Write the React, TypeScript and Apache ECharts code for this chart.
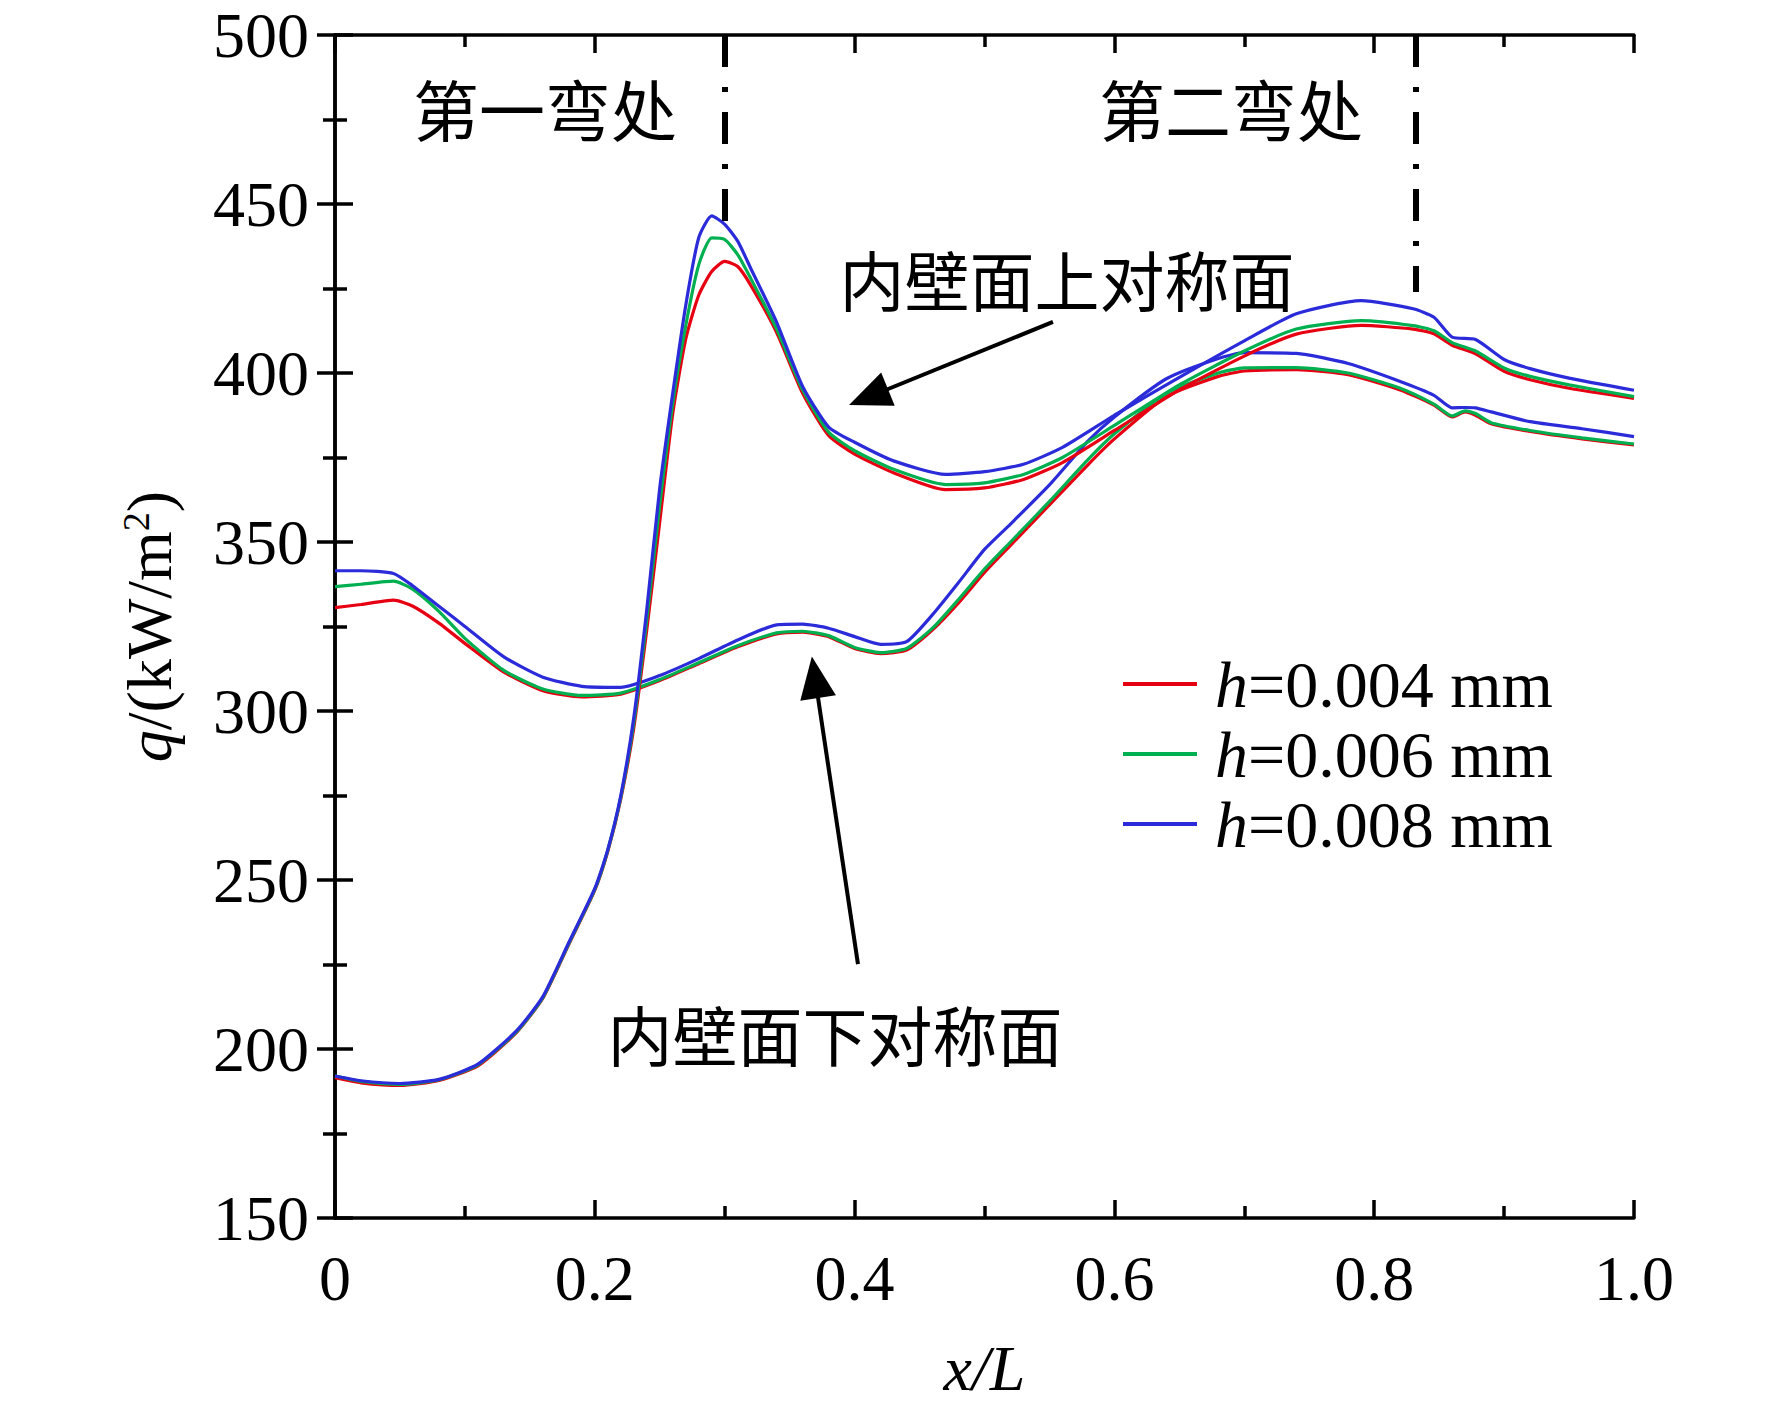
import * as echarts from "echarts";
import { useEffect, useRef } from "react";

const H_NAMES = ["h=0.004 mm", "h=0.006 mm", "h=0.008 mm"];
const COLORS = ["#e60012", "#00b050", "#2b2bd9"];

// x/L positions of the upper symmetry plane curves
const X_UPPER = [0, 0.02, 0.05, 0.08, 0.11, 0.14, 0.16, 0.18, 0.2, 0.21, 0.22, 0.23, 0.24, 0.25, 0.26, 0.27, 0.28, 0.29, 0.3, 0.31, 0.32, 0.34, 0.36, 0.38, 0.4, 0.43, 0.47, 0.5, 0.53, 0.56, 0.6, 0.65, 0.7, 0.74, 0.79, 0.83, 0.846, 0.86, 0.878, 0.9, 0.92, 0.95, 1.0];
const Q_UPPER_004 = [191.5, 190, 189.2, 190.7, 195, 205, 215, 231, 247, 258.5, 274, 295, 324, 356, 388, 410, 423, 430, 433, 431.5, 426, 412, 394, 381.5, 376, 370.5, 365.5, 366, 368.5, 373.5, 383, 395, 405, 411.5, 414.1, 413, 411.6, 408.2, 405.7, 400.5, 398, 395.5, 392.5];
const Q_UPPER_006 = [192, 190.4, 189.5, 190.9, 195.3, 205.2, 215.2, 231.2, 247.2, 258.8, 274.5, 296.5, 327, 361, 391, 414, 432, 440, 439.5, 435, 428, 413, 395, 382.5, 377, 371.5, 367, 367.5, 370, 375, 384.5, 396.5, 406.5, 413, 415.5, 414, 412.5, 409, 406.5, 401.5, 399, 396.5, 393];
const Q_UPPER_008 = [192, 190.6, 189.8, 191, 195.5, 205.5, 215.5, 231.5, 247.5, 259, 275, 298, 330, 366, 394, 420, 440, 446.5, 444, 439, 431, 415, 396, 384, 379.5, 374, 370, 370.8, 373, 378, 387.5, 398.7, 409.5, 417.5, 421.4, 419, 416.5, 410.6, 409.9, 404, 401.3, 398.5, 394.9];

// x/L positions of the lower symmetry plane curves
const X_LOWER = [0, 0.02, 0.045, 0.06, 0.08, 0.1, 0.13, 0.16, 0.19, 0.22, 0.25, 0.28, 0.31, 0.34, 0.36, 0.38, 0.4, 0.42, 0.44, 0.46, 0.48, 0.5, 0.52, 0.55, 0.58, 0.6, 0.64, 0.68, 0.7, 0.74, 0.78, 0.82, 0.846, 0.86, 0.87, 0.878, 0.89, 0.92, 0.96, 1.0];
const Q_LOWER_004 = [330.6, 331.5, 332.8, 331, 326, 320, 311.5, 306, 304.2, 305, 309, 314, 319, 322.8, 323.3, 322, 318.5, 317, 318, 324, 332, 341, 349, 361, 373, 380.5, 393, 399, 400.6, 401, 399.5, 395, 390.5, 387, 388.5, 387.5, 385, 382.7, 380.5, 378.7];
const Q_LOWER_006 = [336.8, 337.5, 338.4, 336, 329.5, 321.5, 312, 306.5, 304.6, 305.3, 309.3, 314.3, 319.3, 323.1, 323.6, 322.3, 318.8, 317.3, 318.5, 324.5, 333, 342, 350, 362, 374.5, 382, 394, 400, 401.5, 401.6, 400, 395.5, 390.8, 387.3, 388.8, 388, 385.3, 383, 380.8, 379];
const Q_LOWER_008 = [341.5, 341.5, 340.7, 337, 331, 325, 316, 310, 307.3, 307, 310.5, 315.5, 321, 325.5, 325.7, 324.5, 322, 319.7, 320.5, 328.5, 338, 347.8, 355.3, 366.9, 380, 387, 398.3, 404.3, 406, 405.8, 402.8, 397.5, 393.4, 389.7, 389.8, 389.7, 388.5, 385.6, 383.5, 381.2];

// bend boundaries: x/L and lower end of the dash-dot marker
const BEND_X = [0.3, 0.832];
const BEND_END_Q = [443.5, 424];

// arrows: [tail, head]
const ARROW_UPPER = [[0.5527, 415.1], [0.4107, 392.9]];
const ARROW_LOWER = [[0.4026, 225.1], [0.3695, 310]];

const SERIF = "'Liberation Serif', 'Times New Roman', serif";
const CJK = "'Noto Sans CJK SC', sans-serif";

const zip = (xs: number[], ys: number[]) => xs.map((x, i) => [x, ys[i]]);

const axisStyle = {
  axisLine: { lineStyle: { color: "#000", width: 3.5 } },
  axisTick: { inside: true, length: 18, lineStyle: { color: "#000", width: 3.5 } },
  minorTick: { show: true, splitNumber: 2, length: 12, lineStyle: { color: "#000", width: 3.5 } },
  splitLine: { show: false },
  minorSplitLine: { show: false },
};

export default function App() {
  const chartRef = useRef<HTMLDivElement | null>(null);

  useEffect(() => {
    document.body.style.margin = "0";
    if (!chartRef.current) return;
    const chart = echarts.init(chartRef.current, null, { renderer: "svg" });

    const upper = [Q_UPPER_004, Q_UPPER_006, Q_UPPER_008];
    const lower = [Q_LOWER_004, Q_LOWER_006, Q_LOWER_008];

    const series: any[] = [];
    H_NAMES.forEach((name, i) => {
      series.push({
        name,
        type: "line",
        data: zip(X_LOWER, lower[i]),
        showSymbol: false,
        smooth: 0.2,
        lineStyle: { color: COLORS[i], width: 3.2 },
        itemStyle: { color: COLORS[i] },
      });
    });
    H_NAMES.forEach((name, i) => {
      series.push({
        name,
        type: "line",
        data: zip(X_UPPER, upper[i]),
        showSymbol: false,
        smooth: 0.2,
        lineStyle: { color: COLORS[i], width: 3.2 },
        itemStyle: { color: COLORS[i] },
      });
    });

    // dash-dot bend markers
    series.push({
      type: "line",
      data: [],
      silent: true,
      markLine: {
        silent: true,
        symbol: "none",
        label: { show: false },
        lineStyle: { color: "#000", width: 6, type: [32, 20, 5, 20] },
        data: BEND_X.map((x, i) => [{ coord: [x, 500] }, { coord: [x, BEND_END_Q[i]] }]),
      },
    });
    // arrows
    series.push({
      type: "line",
      data: [],
      silent: true,
      markLine: {
        silent: true,
        symbol: ["none", "triangle"],
        symbolSize: [36, 42],
        label: { show: false },
        lineStyle: { color: "#000", width: 4, type: "solid" },
        itemStyle: { color: "#000" },
        data: [ARROW_UPPER, ARROW_LOWER].map((a) => [{ coord: a[0] }, { coord: a[1] }]),
      },
    });

    chart.setOption({
      animation: false,
      backgroundColor: "#fff",
      grid: { left: 335, top: 35, width: 1299, height: 1188 },
      legend: {
        data: H_NAMES,
        orient: "vertical",
        left: 1118,
        top: 646,
        icon: "rect",
        itemWidth: 74,
        itemHeight: 4,
        itemGap: 4,
        selectedMode: false,
        formatter: (name: string) => `{i|h}${name.slice(1)}`,
        textStyle: {
          color: "#000",
          fontFamily: SERIF,
          fontSize: 66,
          lineHeight: 66,
          padding: [0, 0, 0, 13],
          rich: {
            i: { fontStyle: "italic", fontFamily: SERIF, fontSize: 66, color: "#000" },
          },
        },
      },
      xAxis: [
        {
          type: "value",
          min: 0,
          max: 1,
          interval: 0.2,
          ...axisStyle,
          axisLabel: {
            color: "#000",
            fontFamily: SERIF,
            fontSize: 64,
            margin: 28,
            formatter: (v: number) => (v === 0 ? "0" : v.toFixed(1)),
          },
          name: "x/L",
          nameLocation: "middle",
          nameGap: 118,
          nameTextStyle: { color: "#000", fontFamily: SERIF, fontSize: 64, fontStyle: "italic" },
        },
        {
          type: "value",
          position: "top",
          min: 0,
          max: 1,
          interval: 0.2,
          ...axisStyle,
          axisLabel: { show: false },
        },
      ],
      yAxis: [
        {
          type: "value",
          min: 150,
          max: 500,
          interval: 50,
          ...axisStyle,
          axisLabel: { color: "#000", fontFamily: SERIF, fontSize: 64, margin: 26 },
          name: "{i|q}/(kW/m{s|2})",
          nameLocation: "middle",
          nameRotate: 90,
          nameGap: 154,
          nameTextStyle: {
            color: "#000",
            fontFamily: SERIF,
            fontSize: 64,
            rich: {
              i: { fontStyle: "italic", fontFamily: SERIF, fontSize: 64, color: "#000" },
              s: { fontFamily: SERIF, fontSize: 38, color: "#000", verticalAlign: "top" },
            },
          },
        },
        {
          type: "value",
          position: "right",
          min: 150,
          max: 500,
          interval: 50,
          ...axisStyle,
          axisLabel: { show: false },
        },
      ],
      graphic: [
        { type: "text", x: 545, y: 107, style: { text: "第一弯处", fontSize: 66, fontFamily: CJK, fill: "#000", align: "center", verticalAlign: "middle" } },
        { type: "text", x: 1231, y: 107, style: { text: "第二弯处", fontSize: 66, fontFamily: CJK, fill: "#000", align: "center", verticalAlign: "middle" } },
        { type: "text", x: 1067, y: 278, style: { text: "内壁面上对称面", fontSize: 65, fontFamily: CJK, fill: "#000", align: "center", verticalAlign: "middle" } },
        { type: "text", x: 835, y: 1033, style: { text: "内壁面下对称面", fontSize: 65, fontFamily: CJK, fill: "#000", align: "center", verticalAlign: "middle" } },
      ],
      series,
    });

    return () => chart.dispose();
  }, []);

  return <div ref={chartRef} style={{ width: 1772, height: 1405 }} />;
}
